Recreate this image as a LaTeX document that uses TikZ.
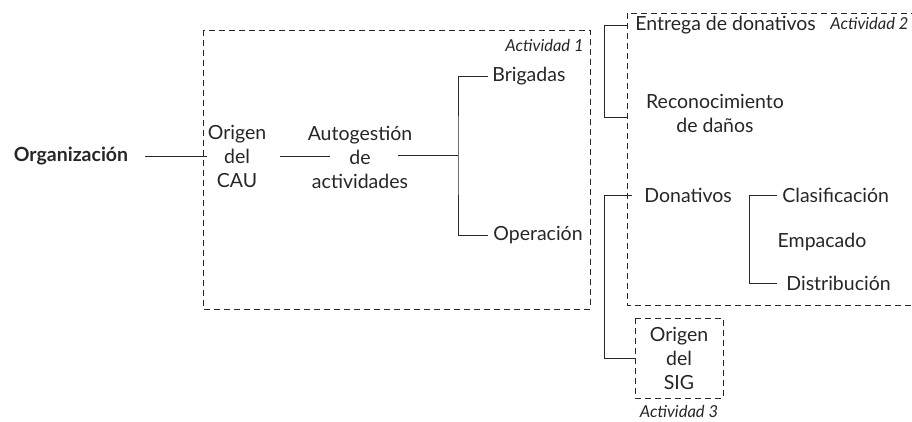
\documentclass[tikz,border=0pt]{standalone}
\usepackage{fontspec}
\setmainfont{Lato}
\begin{document}
\begin{tikzpicture}
  [x=1pt,y=-1pt,line width=0.8pt,color=black!85,
   every node/.style={inner sep=0pt,align=center,font=\fontsize{19.5}{24}\selectfont},
   act/.style={font=\fontsize{16.5}{18}\selectfont\itshape},
   frame/.style={dashed,dash pattern=on 6pt off 4pt}]
  \useasboundingbox (0,0) rectangle (912,421);
  \clip (0,0) rectangle (912,421);

  \draw[frame] (203,30) rectangle (590,309);
  \draw[frame] (627,13) rectangle (940,305);
  \draw[frame] (635,318) rectangle (723,398);

  \node[font=\fontsize{19.5}{24}\selectfont\bfseries] (0) at (71,156) {Organización};
  \node (1) at (237,156) {Origen\\del\\CAU};
  \node (2) at (360,157) {Autogestión\\de\\actividades};
  \node[anchor=west] (3) at (492,76) {Brigadas};
  \node[anchor=west] (4) at (493,235) {Operación};
  \node[anchor=west] (5) at (635,25) {Entrega de donativos};
  \node (6) at (715,113) {Reconocimiento\\de daños};
  \node[anchor=west] (7) at (644,195) {Donativos};
  \node[anchor=west] (8) at (782,195) {Clasificación};
  \node (9) at (822,242) {Empacado};
  \node[anchor=west] (10) at (786,283) {Distribución};
  \node (11) at (679,358) {Origen\\del\\SIG};

  \node[act,anchor=east] (12) at (584,45) {Actividad 1};
  \node[act,anchor=west] (13) at (830,23) {Actividad 2};
  \node[act] (14) at (679,411) {Actividad 3};

  \coordinate (a1) at (145,156);
  \coordinate (a2) at (207,156);
  \coordinate (b1) at (280,156);
  \coordinate (b2) at (330,156);
  \coordinate (c1) at (398,155);
  \coordinate (c2) at (458,155);
  \coordinate (d1) at (488,76);
  \coordinate (d2) at (488,235);
  \coordinate (e0) at (604,25);
  \coordinate (e1) at (627,25);
  \coordinate (e2) at (627,117);
  \coordinate (g0) at (604,195);
  \coordinate (g1) at (632,195);
  \coordinate (g2) at (635,358);
  \coordinate (h0) at (749,195);
  \coordinate (h1) at (777,195);
  \coordinate (h2) at (777,283);

  \draw (a1) -- (a2);
  \draw (b1) -- (b2);
  \draw (c1) -- (c2);
  \draw (d1) -| (c2) |- (d2);
  \draw (e1) -- (e0) |- (e2);
  \draw (g1) -- (g0) |- (g2);
  \draw (h1) -- (h0) |- (h2);

\end{tikzpicture}
\end{document}
